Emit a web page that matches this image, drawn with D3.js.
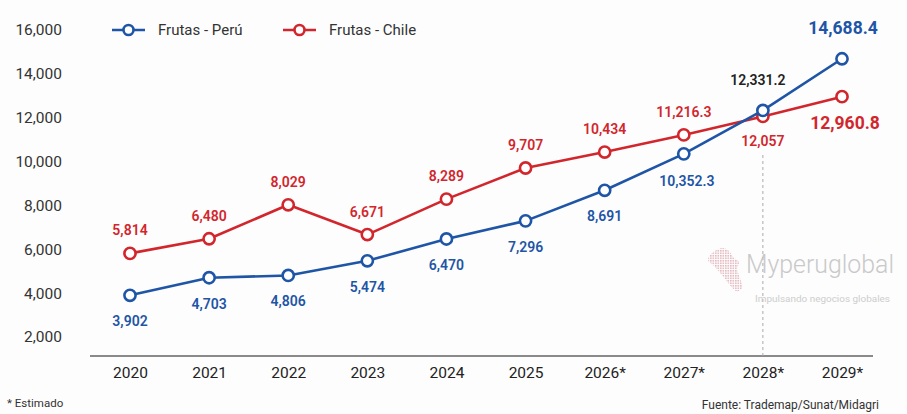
<!DOCTYPE html>
<html>
<head>
<meta charset="utf-8">
<script src="https://cdn.jsdelivr.net/npm/d3@7/dist/d3.min.js"></script>
<style>
  html, body { margin: 0; padding: 0; background: #fdfdfd; }
  svg { display: block; font-family: Roboto, "Noto Sans", sans-serif; }
</style>
</head>
<body>
<svg id="chart" width="907" height="414"></svg>
<script>
// ---- data ----
const years = ["2020", "2021", "2022", "2023", "2024", "2025", "2026*", "2027*", "2028*", "2029*"];
const peru  = [3902, 4703, 4806, 5474, 6470, 7296, 8691, 10352.3, 12331.2, 14688.4];
const chile = [5814, 6480, 8029, 6671, 8289, 9707, 10434, 11216.3, 12057, 12960.8];
const peruLabels  = ["3,902", "4,703", "4,806", "5,474", "6,470", "7,296", "8,691", "10,352.3", "12,331.2", "14,688.4"];
const chileLabels = ["5,814", "6,480", "8,029", "6,671", "8,289", "9,707", "10,434", "11,216.3", "12,057", "12,960.8"];
const yTicks = [2000, 4000, 6000, 8000, 10000, 12000, 14000, 16000];
const seriesNames = ["Frutas - Perú", "Frutas - Chile"];

// ---- styles ----
const BLUE = "#1f55a6", RED = "#d2262d";

const svg = d3.select("#chart");
const x = d3.scalePoint().domain(years).range([130, 842]);
const y = d3.scaleLinear().domain([2000, 16000]).range([337, 30]);
const baseY = 356;

// y tick labels
const yAxis = d3.axisLeft(y).tickValues(yTicks).tickSize(0).tickPadding(0)
  .tickFormat(d3.format(","));
const gy = svg.append("g").attr("transform", "translate(62,0)").call(yAxis);
gy.select(".domain").remove();
gy.selectAll("text").attr("font-size", 15.5).attr("fill", "#333").attr("font-family", "Roboto, sans-serif");

// x axis
const xAxis = d3.axisBottom(x).tickSize(0).tickPadding(11);
const gx = svg.append("g").attr("transform", `translate(0,${baseY})`).call(xAxis);
gx.select(".domain").remove();
gx.selectAll("text").attr("font-size", 15.5).attr("fill", "#222").attr("font-family", "Roboto, sans-serif");
svg.append("line").attr("x1", 90).attr("x2", 873).attr("y1", baseY).attr("y2", baseY)
  .attr("stroke", "#8a8a8a").attr("stroke-width", 2);

// dashed marker at 2028
svg.append("line").attr("x1", x("2028*")).attr("x2", x("2028*"))
  .attr("y1", 155).attr("y2", baseY)
  .attr("stroke", "#aaa").attr("stroke-width", 1).attr("stroke-dasharray", "3,3");

// watermark
const wm = svg.append("g").attr("opacity", 0.9);
const mapPts = [[722,248],[729,251],[733,257],[739,262],[737,269],[740,278],[742,288],[736,291],[729,284],[722,275],[714,266],[708,260],[712,253]];
const defs = svg.append("defs");
const pat = defs.append("pattern").attr("id", "dots").attr("width", 2.5).attr("height", 2.5).attr("patternUnits", "userSpaceOnUse");
pat.append("rect").attr("width", 1.6).attr("height", 1.6).attr("fill", "#e3b3bb");
wm.append("path").attr("d", d3.line().curve(d3.curveCardinalClosed)(mapPts)).attr("fill", "url(#dots)");
wm.append("text").attr("x", 746).attr("y", 273).attr("font-size", 26).attr("font-weight", 300)
  .attr("textLength", 148).attr("lengthAdjust", "spacingAndGlyphs")
  .attr("fill", "#c4c4c4").attr("font-family", "Roboto, sans-serif").text("Myperuglobal");
wm.append("text").attr("x", 755).attr("y", 302).attr("font-size", 8.5)
  .attr("textLength", 135).attr("lengthAdjust", "spacingAndGlyphs")
  .attr("fill", "#c9c9c9").attr("font-family", "Roboto, sans-serif").text("Impulsando negocios globales");

// lines
const line = d3.line().x((d, i) => x(years[i])).y(d => y(d));
function drawSeries(vals, color) {
  svg.append("path").datum(vals).attr("d", line).attr("fill", "none")
    .attr("stroke", color).attr("stroke-width", 2.6).attr("stroke-linejoin", "round");
  svg.append("g").selectAll("circle").data(vals).join("circle")
    .attr("cx", (d, i) => x(years[i])).attr("cy", d => y(d)).attr("r", 5.6)
    .attr("fill", "#fff").attr("stroke", color).attr("stroke-width", 2.6);
}
drawSeries(chile, RED);
drawSeries(peru, BLUE);

// value labels
function drawLabels(vals, labels, color, placeFn) {
  svg.append("g").selectAll("text").data(vals).join("text")
    .attr("x", (d, i) => x(years[i]) + placeFn(i).dx)
    .attr("y", (d, i) => y(d) + placeFn(i).dy)
    .attr("text-anchor", "middle").attr("dominant-baseline", "central")
    .attr("font-size", (d, i) => placeFn(i).big ? 17.5 : 14)
    .attr("font-weight", (d, i) => placeFn(i).big ? 700 : 600)
    .attr("fill", (d, i) => placeFn(i).color || color)
    .attr("font-family", "Roboto, sans-serif")
    .text((d, i) => labels[i]);
}
const last = years.length - 1;
drawLabels(chile, chileLabels, RED, i => {
  if (i === last) return { dx: 3, dy: 26, big: true };
  if (i === last - 1) return { dx: 0, dy: 25 };
  return { dx: 0, dy: -23 };
});
drawLabels(peru, peruLabels, BLUE, i => {
  if (i === last) return { dx: 1, dy: -31, big: true };
  if (i === last - 1) return { dx: -5, dy: -30, color: "#222" };
  if (i === last - 2) return { dx: 3, dy: 27 };
  return { dx: 0, dy: 26 };
});

// legend
const legend = svg.append("g");
[[BLUE, 112, 158], [RED, 283, 329]].forEach(([c, x0, tx], k) => {
  legend.append("line").attr("x1", x0).attr("x2", x0 + 33).attr("y1", 30).attr("y2", 30)
    .attr("stroke", c).attr("stroke-width", 2.6);
  legend.append("circle").attr("cx", x0 + 16.5).attr("cy", 30).attr("r", 5)
    .attr("fill", "#fff").attr("stroke", c).attr("stroke-width", 2.6);
  legend.append("text").attr("x", tx).attr("y", 30).attr("dominant-baseline", "central")
    .attr("font-size", 15).attr("fill", "#333").attr("font-family", "Roboto, sans-serif")
    .text(seriesNames[k]);
});

// footnotes
svg.append("text").attr("x", 7).attr("y", 407).attr("font-size", 11.5).attr("fill", "#333")
  .text("* Estimado");
svg.append("text").attr("x", 879).attr("y", 409).attr("text-anchor", "end").attr("font-size", 12)
  .attr("fill", "#333").text("Fuente: Trademap/Sunat/Midagri");
</script>
</body>
</html>
